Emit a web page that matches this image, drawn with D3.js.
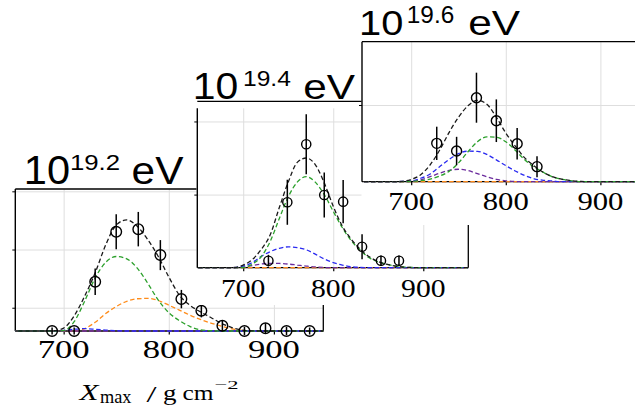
<!DOCTYPE html>
<html>
<head>
<meta charset="utf-8">
<script src="https://cdn.jsdelivr.net/npm/d3@7"></script>
<style>
  html, body { margin: 0; padding: 0; background: #fff; overflow: hidden; }
  svg { display: block; }
</style>
</head>
<body>
<svg id="chart" width="635" height="409"></svg>
<script>
// Xmax sampling grid for the fitted curves (g/cm^2)
const xmaxGrid = [650,660,670,680,690,700,710,720,730,740,750,760,770,780,790,800,810,820,830,840,850,860,870,880,890,900,910,920,930,940,950];
const xTickValues = [700, 800, 900];
const energyExponents = ["19.2", "19.4", "19.6"];

// ---- lg(E/eV) = 19.2 ----
const obs192X   = [689,710,730,750,771,792,812,831,851,872,892,912,934];
const obs192Y   = [0,0,0.423,0.852,0.875,0.652,0.274,0.174,0.045,0,0.023,0,0];
const obs192Err = [0.03,0.03,0.114,0.15,0.148,0.129,0.079,0.057,0.043,0.035,0.043,0.035,0.03];
const fit192Total  = [0,0,0,0,0.002,0.025,0.13,0.30,0.50,0.74,0.91,0.955,0.90,0.785,0.64,0.465,0.31,0.222,0.165,0.116,0.066,0.03,0.008,0.001,0,0,0,0,0,0,0];
const fit192Green  = [0,0,0,0,0,0.004,0.08,0.257,0.457,0.59,0.64,0.62,0.54,0.41,0.265,0.158,0.09,0.04,0.01,0.002,0,0,0,0,0,0,0,0,0,0,0];
const fit192Orange = [0,0,0,0,0,0,0,0.02,0.075,0.15,0.21,0.255,0.277,0.28,0.262,0.222,0.18,0.137,0.10,0.068,0.042,0.018,0.005,0,0,0,0,0,0,0,0];
const fit192Blue   = [0,0,0,0,0,0.005,0.015,0.02,0.015,0.008,0.003,0,0,0,0,0,0,0,0,0,0,0,0,0,0,0,0,0,0,0,0];
const fit192Purple = [0,0,0,0,0,0,0,0,0,0,0,0,0,0,0,0,0,0,0,0,0,0,0,0,0,0,0,0,0,0,0];
const fit192Brown  = [0,0,0,0,0,0,0,0,0,0,0,0,0,0,0,0,0,0,0,0,0,0,0,0,0,0,0,0,0,0,0];

// ---- lg(E/eV) = 19.4 ----
const obs194X   = [728,749,770,790,811,832,853,873];
const obs194Y   = [0.096,0.895,1.688,0.995,0.903,0.287,0.096,0.096];
const obs194Err = [0.08,0.308,0.41,0.308,0.296,0.171,0.07,0.07];
const fit194Total  = [0,0,0,0,0.003,0.035,0.11,0.25,0.45,0.82,1.17,1.44,1.50,1.41,1.16,0.84,0.57,0.39,0.25,0.15,0.085,0.045,0.02,0.007,0.002,0,0,0,0,0,0];
const fit194Green  = [0,0,0,0,0,0.003,0.05,0.15,0.36,0.67,0.97,1.17,1.245,1.17,1.0,0.77,0.55,0.37,0.24,0.135,0.08,0.045,0.02,0.008,0.002,0,0,0,0,0,0];
const fit194Orange = [0,0,0,0,0,0,0,0,0,0,0,0,0,0,0,0,0,0,0,0,0,0,0,0,0,0,0,0,0,0,0];
const fit194Blue   = [0,0,0,0,0.002,0.02,0.07,0.155,0.22,0.265,0.285,0.275,0.245,0.185,0.12,0.07,0.036,0.014,0.004,0,0,0,0,0,0,0,0,0,0,0,0];
const fit194Purple = [0,0,0,0,0,0.008,0.03,0.05,0.06,0.058,0.05,0.036,0.022,0.01,0.003,0,0,0,0,0,0,0,0,0,0,0,0,0,0,0,0];
const fit194Brown  = [0,0,0,0,0,0,0,0,0,0,0,0,0,0,0,0,0,0,0,0,0,0,0,0,0,0,0,0,0,0,0];

// ---- lg(E/eV) = 19.6 ----
const obs196X   = [727,748,769,790,812,833];
const obs196Y   = [0.50,0.40,1.095,0.795,0.495,0.196];
const obs196Err = [0.217,0.185,0.326,0.278,0.206,0.137];
const fit196Total  = [0,0,0,0,0.005,0.03,0.09,0.22,0.41,0.64,0.84,0.99,1.06,1.01,0.84,0.635,0.465,0.31,0.205,0.12,0.062,0.03,0.012,0.003,0,0,0,0,0,0,0];
const fit196Green  = [0,0,0,0,0,0.005,0.015,0.033,0.073,0.135,0.245,0.39,0.52,0.585,0.58,0.52,0.41,0.285,0.19,0.12,0.06,0.03,0.01,0,0,0,0,0,0,0,0];
const fit196Orange = [0,0,0,0,0,0,0,0,0,0,0,0,0,0,0,0,0,0,0,0,0,0,0,0,0,0,0,0,0,0,0];
const fit196Blue   = [0,0,0,0,0.003,0.01,0.045,0.10,0.195,0.29,0.365,0.398,0.395,0.355,0.285,0.21,0.14,0.08,0.038,0.018,0.008,0,0,0,0,0,0,0,0,0,0];
const fit196Purple = [0,0,0,0,0,0.005,0.025,0.065,0.11,0.148,0.162,0.145,0.105,0.065,0.03,0.012,0.003,0,0,0,0,0,0,0,0,0,0,0,0,0,0];
const fit196Brown  = [0,0,0,0,0,0,0,0,0,0,0,0,0,0,0,0,0,0,0,0,0,0,0,0,0,0,0,0,0,0,0];

// curve colours, in drawing order (total fit last)
const curveColors = ["#8c564b", "#ff8c1a", "#6a2a9c", "#2a2af0", "#2ca02c", "#1a1a1a"];

const panelData = [
  { exp: energyExponents[0], ox: obs192X, oy: obs192Y, oe: obs192Err,
    fits: [fit192Brown, fit192Orange, fit192Purple, fit192Blue, fit192Green, fit192Total] },
  { exp: energyExponents[1], ox: obs194X, oy: obs194Y, oe: obs194Err,
    fits: [fit194Brown, fit194Orange, fit194Purple, fit194Blue, fit194Green, fit194Total] },
  { exp: energyExponents[2], ox: obs196X, oy: obs196Y, oe: obs196Err,
    fits: [fit196Brown, fit196Orange, fit196Purple, fit196Blue, fit196Green, fit196Total] }
];

// frame geometry of each panel (pixels)
const frames = [
  { l: 15.3, r: 323.3, t: 189, b: 331, xDom: [654, 947], yDom: [0, 1.22], yTicks: [0.2, 0.7, 1.2],
    rule: 189, bg: null, dot: 5.3,
    tick: { fs: 24.5, w: 52, base: 358.3 },
    title: { base: 184, ten: { x: 23.8, w: 46.2, fs: 40 }, sup: { x: 69.9, w: 50.2, fs: 22.3, base: 170 }, ev: { x: 131.6, w: 51.8, fs: 39.5 } } },
  { l: 197.3, r: 468.3, t: 108.3, b: 267.7, xDom: [649, 950], yDom: [0, 2.18], yTicks: [1, 2],
    rule: 101.3, bg: { x0: 196.5, y0: 50, x1: 635, y1: 305 }, dot: 4.6,
    tick: { fs: 26, w: 44.4, base: 296.7 },
    title: { base: 99.3, ten: { x: 192.8, w: 45.5, fs: 36.3 }, sup: { x: 243, w: 47.8, fs: 22.3, base: 86 }, ev: { x: 303.3, w: 51.8, fs: 35.3 } } },
  { l: 362, r: 647.7, t: 41.7, b: 181.7, xDom: [648, 950], yDom: [0, 1.825], yTicks: [1],
    rule: 41.7, bg: { x0: 361.5, y0: 0, x1: 635, y1: 225 }, dot: 5,
    tick: { fs: 26, w: 46, base: 210 },
    title: { base: 35, ten: { x: 359, w: 44.3, fs: 35 }, sup: { x: 406.8, w: 47.4, fs: 23, base: 23.3 }, ev: { x: 468.3, w: 51.8, fs: 34.5 } } }
];

const svg = d3.select("#chart");
const SANS = "'Liberation Sans', Arial, sans-serif";
const SERIF = "'Liberation Serif', 'Times New Roman', serif";

function putText(g, str, x, y, fs, family, width, extra) {
  const t = g.append("text")
    .attr("x", x).attr("y", y)
    .attr("font-family", family)
    .attr("font-size", fs)
    .attr("fill", "#000")
    .text(str);
  if (width) t.attr("textLength", width).attr("lengthAdjust", "spacingAndGlyphs");
  if (extra) Object.entries(extra).forEach(([k, v]) => t.attr(k, v));
  return t;
}

panelData.forEach((pd, i) => {
  const f = frames[i];
  const g = svg.append("g");

  if (f.bg) {
    g.append("rect")
      .attr("x", f.bg.x0).attr("y", f.bg.y0)
      .attr("width", f.bg.x1 - f.bg.x0).attr("height", f.bg.y1 - f.bg.y0)
      .attr("fill", "#fff");
  }

  const x = d3.scaleLinear().domain(f.xDom).range([f.l, f.r]);
  const y = d3.scaleLinear().domain(f.yDom).range([f.b, f.t]);
  const h = f.b - f.t, w = f.r - f.l;

  // grid
  const gx = g.append("g").attr("transform", `translate(0,${f.t})`)
    .call(d3.axisBottom(x).tickValues(xTickValues).tickSize(h).tickFormat(""));
  gx.select(".domain").remove();
  gx.selectAll("line").attr("stroke", "#dedede").attr("stroke-width", 1);

  const gy = g.append("g").attr("transform", `translate(${f.l},0)`)
    .call(d3.axisRight(y).tickValues(f.yTicks).tickSize(w).tickFormat(""));
  gy.select(".domain").remove();
  gy.selectAll("line").attr("stroke", "#dedede").attr("stroke-width", 1);

  // tick marks
  const tx = g.append("g").attr("transform", `translate(0,${f.b})`)
    .call(d3.axisBottom(x).tickValues(xTickValues).tickSize(3.5).tickFormat(""));
  tx.select(".domain").remove();
  tx.selectAll("line").attr("stroke", "#000").attr("stroke-width", 1.2);

  const ty = g.append("g").attr("transform", `translate(${f.l},0)`)
    .call(d3.axisLeft(y).tickValues(f.yTicks).tickSize(3).tickFormat(""));
  ty.select(".domain").remove();
  ty.selectAll("line").attr("stroke", "#000").attr("stroke-width", 1);

  // spines
  const spine = (x1, y1, x2, y2, sw) => g.append("line")
    .attr("x1", x1).attr("y1", y1).attr("x2", x2).attr("y2", y2)
    .attr("stroke", "#000").attr("stroke-width", sw);
  spine(f.l, f.t, f.l, f.b, 1.4);
  spine(f.r, f.t, f.r, f.b, 1.3);
  spine(f.l, f.b, f.r, f.b, 1.3);
  spine(f.l, f.rule, f.r, f.rule, 1.3);

  // fitted curves
  const clipId = "clip" + i;
  g.append("clipPath").attr("id", clipId)
    .append("rect").attr("x", f.l).attr("y", f.t).attr("width", w).attr("height", h + 2);
  const line = d3.line()
    .x((d, k) => x(xmaxGrid[k]))
    .y(d => y(d))
    .curve(d3.curveMonotoneX);
  const curves = g.append("g").attr("clip-path", `url(#${clipId})`);
  pd.fits.forEach((series, k) => {
    curves.append("path")
      .attr("d", line(series))
      .attr("fill", "none")
      .attr("stroke", curveColors[k])
      .attr("stroke-width", 1.3)
      .attr("stroke-dasharray", "4.5,2.6");
  });

  // measured distribution: error bars and open circles
  const pts = pd.ox.map((v, k) => ({ x: v, y: pd.oy[k], e: pd.oe[k] }));
  g.append("g").selectAll("line").data(pts).join("line")
    .attr("x1", d => x(d.x)).attr("x2", d => x(d.x))
    .attr("y1", d => y(d.y - d.e)).attr("y2", d => y(d.y + d.e))
    .attr("stroke", "#000").attr("stroke-width", 1.5);
  g.append("g").selectAll("circle").data(pts).join("circle")
    .attr("cx", d => x(d.x)).attr("cy", d => y(d.y))
    .attr("r", f.dot)
    .attr("fill", "none").attr("stroke", "#000").attr("stroke-width", 1.4);

  // tick labels
  xTickValues.forEach(v => {
    putText(g, String(v), x(v) - f.tick.w / 2, f.tick.base, f.tick.fs, SERIF, f.tick.w);
  });

  // title: 10^exp eV
  const tt = f.title;
  putText(g, "10", tt.ten.x, tt.base, tt.ten.fs, SANS, tt.ten.w);
  putText(g, pd.exp, tt.sup.x, tt.sup.base, tt.sup.fs, SANS, tt.sup.w);
  putText(g, "eV", tt.ev.x, tt.base, tt.ev.fs, SANS, tt.ev.w);
});

// x-axis title
const lab = svg.append("g");
putText(lab, "X", 79.5, 399.5, 23, SERIF, 19, { "font-style": "italic" });
putText(lab, "max", 100, 403, 18, SERIF, 31.5);
putText(lab, "/", 146.5, 402, 23, SERIF, 10);
putText(lab, "g", 163, 399.5, 21.5, SERIF, 13.5);
putText(lab, "cm", 182.5, 399.5, 21.5, SERIF, 31);
putText(lab, "\u22122", 214.5, 388.5, 13.5, SERIF, 24);
</script>
</body>
</html>
